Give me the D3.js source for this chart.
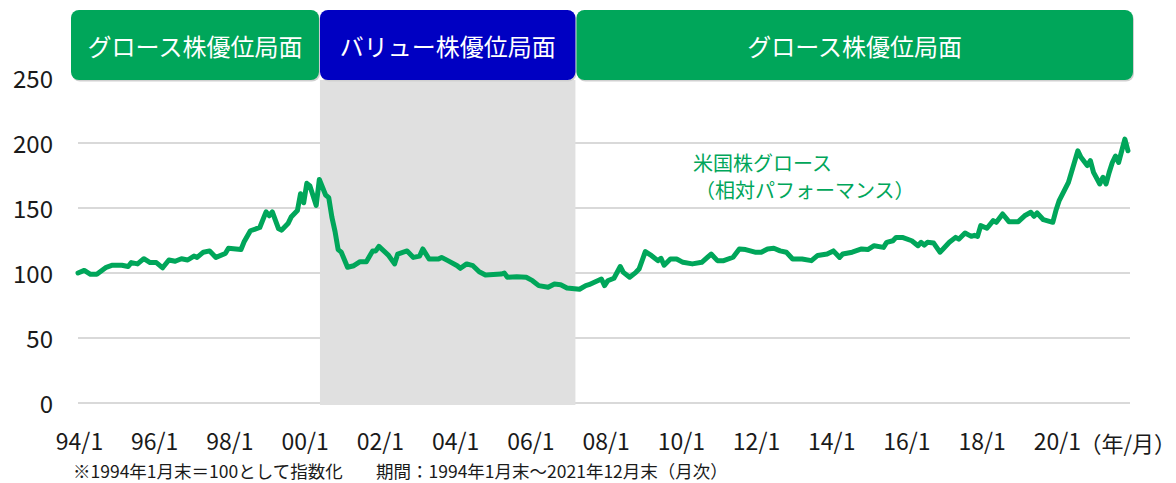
<!DOCTYPE html>
<html>
<head>
<meta charset="utf-8">
<script src="https://cdn.jsdelivr.net/npm/d3@7"></script>
<style>
  body { margin: 0; background: #fff; }
  svg { display: block; font-family: "Noto Sans CJK JP", "Noto Sans", sans-serif; }
</style>
</head>
<body>
<svg id="chart" width="1176" height="483"></svg>
<script>
// months since 1994/1 and relative index (1994/1 = 100)
let monthIdx = [
    0, 2, 4, 6, 9, 11, 14, 16, 17, 19,
    21, 23, 25, 27, 29, 31, 33, 35, 37, 38,
    40, 42, 44, 47, 48, 52, 53, 55, 58, 60,
    61, 62, 64, 65, 67, 68, 70, 71, 72, 73,
    74, 76, 77, 79, 80, 81, 82, 83, 84, 86,
    88, 90, 92, 94, 95, 96, 99, 101, 102, 105,
    107, 109, 110, 112, 115, 116, 118, 121, 122, 124,
    126, 128, 130, 135, 136, 137, 140, 143, 145, 147,
    150, 152, 154, 156, 160, 162, 163, 167, 168, 169,
    171, 173, 174, 176, 178, 179, 181, 183, 185, 186,
    187, 189, 191, 193, 196, 199, 202, 204, 206, 209,
    211, 213, 216, 218, 220, 222, 224, 226, 228, 231,
    234, 236, 239, 241, 243, 244, 247, 250, 252, 254,
    257, 258, 260, 261, 263, 266, 268, 269, 270, 271,
    273, 275, 276, 278, 280, 281, 283, 285, 286, 287,
    288, 290, 292, 293, 295, 297, 300, 302, 304, 305,
    306, 308, 311, 312, 313, 316, 319, 320, 322, 323,
    324, 326, 327, 328, 329, 330, 331, 332, 334, 335
];
let growthRel = [
    100, 102, 99, 99, 104.4, 106, 106, 105, 108, 107,
    111, 108, 108, 104, 110, 109, 111, 110, 113, 112,
    116, 117, 112, 115, 119, 118, 124, 132.5, 135, 147,
    144, 147, 134, 133, 138, 143, 148, 161, 154, 169,
    167, 152, 172, 160, 158, 143, 132, 118, 116, 104.4,
    105.6, 108.7, 108.7, 117, 117, 120.5, 113.8, 107, 114.6, 117,
    112, 113, 118.5, 110.8, 110.8, 112, 109.5, 105.6, 103.6, 107,
    105.6, 101, 98.5, 99.2, 100, 96.7, 97.2, 96.7, 94.1, 90.3,
    89, 91.5, 91, 88.5, 87.5, 90.3, 91, 95.4, 90.3, 94,
    96, 105, 100.5, 96.7, 100.5, 103, 116.4, 113.3, 109.5, 111.3,
    106, 110.8, 110.8, 108.2, 107, 108.2, 114.6, 109.5, 109.5, 112.1,
    118.5, 118, 116, 116, 118.5, 119, 117, 116, 110.8, 110.8,
    109.5, 113.5, 114.6, 117, 112, 114.6, 116, 118.5, 118, 121,
    119.7, 123.6, 124.8, 127.4, 127.4, 124.8, 121, 123.6, 121.5, 123.6,
    123, 116, 118.5, 123.6, 127.4, 126, 130.8, 128.2, 129, 128.2,
    136.4, 134.4, 140.3, 139, 145.4, 139.5, 139.5, 144, 146.7, 143.6,
    146.2, 141, 139, 148, 155.4, 169.7, 194, 189, 182.6, 186.4,
    177.4, 168.5, 173.6, 168.5, 177.4, 185, 190, 185, 203, 194
];

let xTickMonths = [0, 24, 48, 72, 96, 120, 144, 168, 192, 216, 240, 264, 288, 312];
let xTickLabels = ["94/1", "96/1", "98/1", "00/1", "02/1", "04/1", "06/1", "08/1",
                   "10/1", "12/1", "14/1", "16/1", "18/1", "20/1"];
let yTicks = [0, 50, 100, 150, 200, 250];

let phaseLabels = ["グロース株優位局面", "バリュー株優位局面", "グロース株優位局面"];
let phaseStart = [0, 77.2, 158.7];
let phaseEnd = [77.2, 158.7, 335];

let noteParts = ["※1994年1月末＝100として指数化", "期間：1994年1月末～2021年12月末（月次）"];

let greenColor = "#00a65a";
let blueColor = "#0000c2";
let gridColor = "#d9d9d9";
let textColor = "#1a1a1a";

let svg = d3.select("#chart");

let x = d3.scaleLinear().domain([0, 335]).range([78, 1128]);
let y = d3.scaleLinear().domain([0, 250]).range([403, 78]);

// gridlines
svg.append("g")
    .selectAll("line")
    .data(yTicks.slice(0, 5))
    .enter()
    .append("line")
    .attr("x1", 78)
    .attr("x2", 1130)
    .attr("y1", d => y(d))
    .attr("y2", d => y(d))
    .style("stroke", gridColor)
    .style("stroke-width", 2);

// value phase shading
svg.append("rect")
    .attr("x", x(phaseStart[1]))
    .attr("y", 80)
    .attr("width", x(phaseEnd[1]) - x(phaseStart[1]))
    .attr("height", 325)
    .style("fill", "#e0e0e0");

// phase boxes
let boxLeft = [x(phaseStart[0]) - 7, x(phaseStart[1]), x(phaseStart[2]) + 1];
let boxRight = [x(phaseEnd[0]) - 1, x(phaseEnd[1]), x(phaseEnd[2]) + 5];
let boxColors = [greenColor, blueColor, greenColor];

phaseLabels.forEach(function (label, i) {
    svg.append("rect")
        .attr("x", boxLeft[i] + 1)
        .attr("y", 11.5)
        .attr("width", boxRight[i] - boxLeft[i])
        .attr("height", 70)
        .attr("rx", 8)
        .style("fill", "#d0d0d0");
    svg.append("rect")
        .attr("x", boxLeft[i])
        .attr("y", 10)
        .attr("width", boxRight[i] - boxLeft[i])
        .attr("height", 70)
        .attr("rx", 8)
        .style("fill", boxColors[i]);
    svg.append("text")
        .attr("x", (boxLeft[i] + boxRight[i]) / 2)
        .attr("y", 45)
        .attr("text-anchor", "middle")
        .attr("dominant-baseline", "central")
        .style("font-size", "24px")
        .style("fill", "#fff")
        .text(label);
});

// y axis labels
svg.append("g").call(d3.axisLeft(y).tickValues(yTicks).tickSize(0).tickPadding(0))
    .attr("transform", "translate(53,1)")
    .style("font-family", "'Noto Sans CJK JP'")
    .style("font-size", "24px")
    .call(g => g.select(".domain").remove())
    .call(g => g.selectAll("text").style("fill", textColor).attr("dy", "0.35em"));

// x axis labels
svg.append("g").call(d3.axisBottom(x).tickValues(xTickMonths).tickSize(0).tickPadding(0)
        .tickFormat((d, i) => xTickLabels[i]))
    .attr("transform", "translate(1,442)")
    .style("font-family", "'Noto Sans CJK JP'")
    .style("font-size", "23px")
    .call(g => g.select(".domain").remove())
    .call(g => g.selectAll("text").style("fill", textColor).attr("dy", "0.35em").attr("y", 0));

svg.append("text")
    .attr("x", 1176)
    .attr("y", 442)
    .attr("text-anchor", "end")
    .attr("dominant-baseline", "central")
    .style("font-size", "22px")
    .style("fill", textColor)
    .text("（年/月）");

// the line
let points = monthIdx.map((m, i) => [m, growthRel[i]]);
svg.append("path")
    .datum(points)
    .attr("d", d3.line().x(d => x(d[0])).y(d => y(d[1])))
    .style("fill", "none")
    .style("stroke", greenColor)
    .style("stroke-width", 5)
    .style("stroke-linejoin", "round")
    .style("stroke-linecap", "round");

// annotation
svg.append("text")
    .attr("x", 693)
    .attr("y", 171)
    .style("font-size", "20px")
    .style("fill", greenColor)
    .text("米国株グロース");
svg.append("text")
    .attr("x", 695)
    .attr("y", 198)
    .style("font-size", "20px")
    .style("fill", greenColor)
    .text("（相対パフォーマンス）");

// footnote
svg.append("text")
    .attr("x", 73)
    .attr("y", 478)
    .style("font-size", "17.5px")
    .style("fill", textColor)
    .text(noteParts[0]);
svg.append("text")
    .attr("x", 376)
    .attr("y", 478)
    .style("font-size", "17.5px")
    .style("fill", textColor)
    .text(noteParts[1]);
</script>
</body>
</html>
